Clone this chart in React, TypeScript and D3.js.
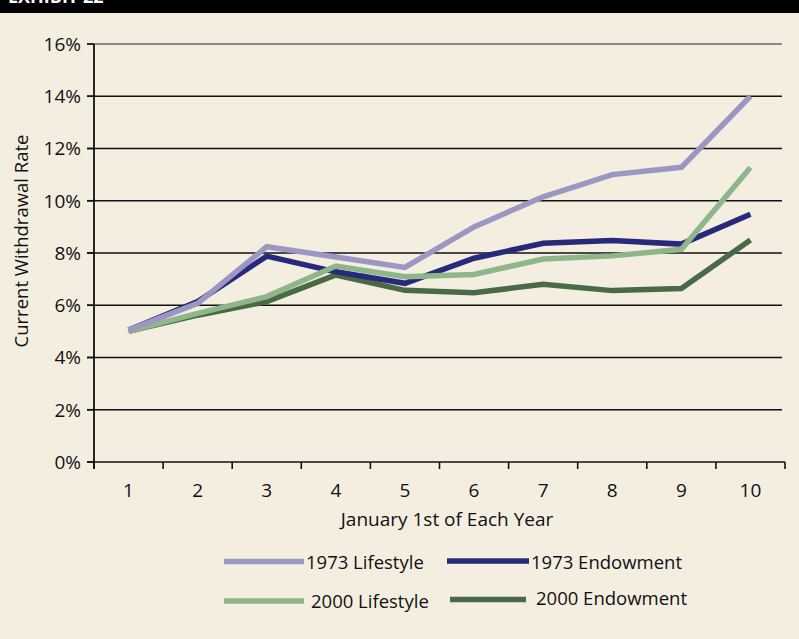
import * as d3 from "d3";

const years = [1, 2, 3, 4, 5, 6, 7, 8, 9, 10];
const yTicks = [0, 2, 4, 6, 8, 10, 12, 14, 16];

const lifestyle1973 = [5.05, 6.07, 8.24, 7.85, 7.45, 9.0, 10.15, 11.0, 11.28, 14.0];
const endowment1973 = [5.05, 6.14, 7.88, 7.28, 6.84, 7.8, 8.37, 8.48, 8.34, 9.48];
const lifestyle2000 = [5.0, 5.69, 6.33, 7.5, 7.09, 7.18, 7.77, 7.89, 8.14, 11.27];
const endowment2000 = [5.0, 5.62, 6.14, 7.16, 6.57, 6.48, 6.8, 6.56, 6.64, 8.5];

const seriesNames = ["1973 Lifestyle", "1973 Endowment", "2000 Lifestyle", "2000 Endowment"];
const seriesColors = ["#9c97c2", "#27297a", "#8fb68b", "#496a44"];
const seriesValues = [lifestyle1973, endowment1973, lifestyle2000, endowment2000];
// drawn back to front
const drawOrder = [3, 1, 2, 0];

const W = 799;
const H = 639;
const left = 94;
const right = 785;
const top = 44;
const bottom = 462;

const sans = "'Open Sans', 'DejaVu Sans', sans-serif";
const narrow = "'Liberation Sans Narrow', 'Open Sans', sans-serif";

export default function App() {
  const x = d3.scaleBand<number>().domain(years).range([left, right]);
  const y = d3.scaleLinear().domain([0, 16]).range([bottom, top]);

  const line = d3
    .line<number>()
    .x((_, i) => (x(years[i]) as number) + x.bandwidth() / 2)
    .y((d) => y(d));

  const xTickPos = years.map((yr) => x(yr) as number).concat([right]);

  const legend = [
    { i: 0, x1: 224, x2: 304, ly: 561.5, tx: 306, ty: 562 },
    { i: 1, x1: 447, x2: 529, ly: 561, tx: 531, ty: 562 },
    { i: 2, x1: 224, x2: 304, ly: 601, tx: 311, ty: 601 },
    { i: 3, x1: 450, x2: 526, ly: 599.5, tx: 536, ty: 598 },
  ];

  return (
    <svg
      width={W}
      height={H}
      style={{ position: "absolute", left: 0, top: 0, display: "block" }}
    >
      <rect x={0} y={0} width={W} height={H} fill="#f4eee1" />
      <rect x={0} y={0} width={W} height={13} fill="#000" />
      <text x={8} y={3} fill="#fff" fontFamily={sans} fontWeight="bold" fontSize={18}>
        EXHIBIT 22
      </text>

      {/* gridlines */}
      {yTicks.map((t) => (
        <line
          key={"g" + t}
          x1={left - 7}
          x2={t === 0 ? right : 782}
          y1={y(t)}
          y2={y(t)}
          stroke={t === 16 ? "#8a8a8a" : "#111"}
          strokeWidth={t === 16 ? 2 : 1.6}
        />
      ))}
      {/* left tick stubs */}
      {yTicks.map((t) => (
        <line key={"s" + t} x1={left - 7} x2={left} y1={y(t)} y2={y(t)} stroke="#111" strokeWidth={1.6} />
      ))}
      <line x1={left} x2={left} y1={top} y2={bottom + 7} stroke="#111" strokeWidth={1.8} />
      {xTickPos.map((p, i) => (
        <line key={"xt" + i} x1={p} x2={p} y1={bottom} y2={bottom + 7} stroke="#111" strokeWidth={1.6} />
      ))}

      {yTicks.map((t) => (
        <text
          key={"yl" + t}
          x={81}
          y={y(t)}
          dy="0.36em"
          textAnchor="end"
          fontFamily={sans}
          fontSize={19}
          fill="#111"
        >
          {t}%
        </text>
      ))}
      {years.map((yr) => (
        <text
          key={"xl" + yr}
          x={(x(yr) as number) + x.bandwidth() / 2}
          y={497}
          textAnchor="middle"
          fontFamily={narrow}
          fontSize={19}
          fill="#111"
        >
          {yr}
        </text>
      ))}
      <text x={447} y={526} textAnchor="middle" fontFamily={narrow} fontSize={19} fill="#111">
        January 1st of Each Year
      </text>
      <text
        transform={`translate(28,${(top + bottom) / 2 - 12}) rotate(-90)`}
        textAnchor="middle"
        fontFamily={sans}
        fontSize={18.5}
        fill="#111"
      >
        Current Withdrawal Rate
      </text>

      {drawOrder.map((i) => (
        <path
          key={"p" + i}
          d={line(seriesValues[i]) || ""}
          fill="none"
          stroke={seriesColors[i]}
          strokeWidth={5.5}
          strokeLinejoin="miter"
        />
      ))}

      {legend.map((l) => (
        <g key={"lg" + l.i}>
          <line x1={l.x1} x2={l.x2} y1={l.ly} y2={l.ly} stroke={seriesColors[l.i]} strokeWidth={5.5} />
          <text x={l.tx} y={l.ty} dy="0.36em" fontFamily={sans} fontSize={18.5} fill="#111">
            {seriesNames[l.i]}
          </text>
        </g>
      ))}
    </svg>
  );
}
